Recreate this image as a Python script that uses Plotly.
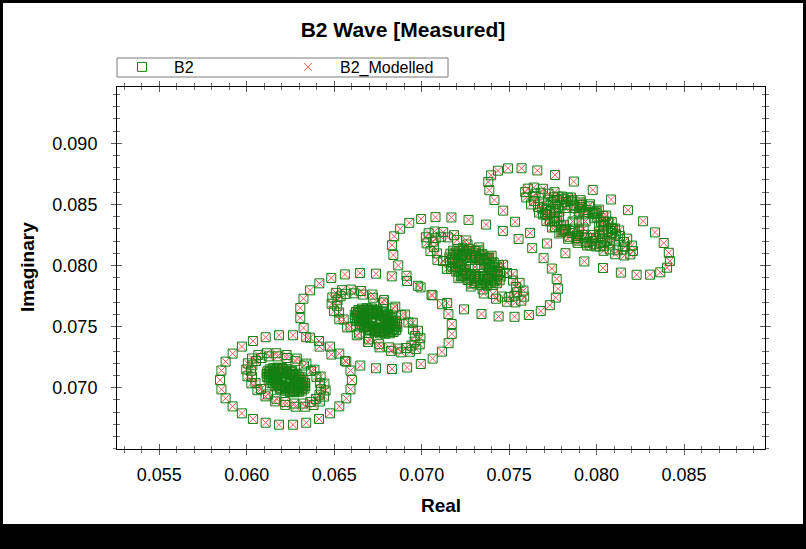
import plotly.graph_objects as go

# ---------------- data ----------------
# Cluster 1
c1_outer_re = [0.06601, 0.06593, 0.06569, 0.06529, 0.06476, 0.06413, 0.06340, 0.06264, 0.06184, 0.06108,
               0.06035, 0.05972, 0.05919, 0.05879, 0.05855, 0.05847, 0.05855, 0.05879, 0.05919, 0.05972,
               0.06035, 0.06108, 0.06184, 0.06264, 0.06340, 0.06413, 0.06476, 0.06529, 0.06569, 0.06593]
c1_outer_im = [0.07063, 0.07140, 0.07213, 0.07279, 0.07336, 0.07382, 0.07413, 0.07429, 0.07429, 0.07413,
               0.07382, 0.07336, 0.07279, 0.07213, 0.07140, 0.07063, 0.06986, 0.06913, 0.06847, 0.06790,
               0.06744, 0.06713, 0.06697, 0.06697, 0.06713, 0.06744, 0.06790, 0.06847, 0.06913, 0.06986]
c1_mid_re = [0.06444, 0.06422, 0.06387, 0.06341, 0.06286, 0.06228, 0.06169, 0.06114, 0.06066, 0.06030, 0.06006, 0.05997,
             0.06004, 0.06026, 0.06061, 0.06107, 0.06162, 0.06220, 0.06279, 0.06334, 0.06382, 0.06418, 0.06442, 0.06451,
             0.06418, 0.06398, 0.06367, 0.06327, 0.06279, 0.06228, 0.06176, 0.06127, 0.06085, 0.06053, 0.06032, 0.06024,
             0.06030, 0.06050, 0.06081, 0.06121, 0.06169, 0.06220, 0.06272, 0.06321, 0.06363, 0.06395, 0.06416, 0.06424]
c1_mid_im = [0.07033, 0.07091, 0.07147, 0.07197, 0.07238, 0.07267, 0.07282, 0.07282, 0.07268, 0.07239, 0.07199, 0.07149,
             0.07093, 0.07035, 0.06979, 0.06929, 0.06888, 0.06859, 0.06844, 0.06844, 0.06858, 0.06887, 0.06927, 0.06977,
             0.07037, 0.07088, 0.07137, 0.07181, 0.07217, 0.07243, 0.07256, 0.07256, 0.07243, 0.07218, 0.07183, 0.07139,
             0.07089, 0.07038, 0.06989, 0.06945, 0.06909, 0.06883, 0.06870, 0.06870, 0.06883, 0.06908, 0.06943, 0.06987]
c1_core_re = [0.06333, 0.06323, 0.06307, 0.06285, 0.06259, 0.06230, 0.06201, 0.06174, 0.06150, 0.06131, 0.06118, 0.06113,
              0.06115, 0.06125, 0.06141, 0.06163, 0.06189, 0.06218, 0.06247, 0.06274, 0.06298, 0.06317, 0.06330, 0.06335,
              0.06321, 0.06312, 0.06298, 0.06278, 0.06255, 0.06229, 0.06204, 0.06179, 0.06158, 0.06141, 0.06130, 0.06125,
              0.06127, 0.06136, 0.06150, 0.06170, 0.06193, 0.06219, 0.06244, 0.06269, 0.06290, 0.06307, 0.06318, 0.06323,
              0.06301, 0.06272, 0.06229, 0.06185, 0.06151, 0.06137, 0.06147, 0.06176, 0.06219, 0.06263, 0.06297, 0.06311,
              0.06297, 0.06290, 0.06280, 0.06265, 0.06247, 0.06228, 0.06209, 0.06190, 0.06174, 0.06162, 0.06153, 0.06150,
              0.06151, 0.06158, 0.06168, 0.06183, 0.06201, 0.06220, 0.06239, 0.06258, 0.06274, 0.06286, 0.06295, 0.06298,
              0.06285, 0.06270, 0.06244, 0.06211, 0.06183, 0.06165, 0.06163, 0.06178, 0.06204, 0.06237, 0.06265, 0.06283,
              0.06253, 0.06245, 0.06224, 0.06203, 0.06195, 0.06203, 0.06224, 0.06245, 0.06224]
c1_core_im = [0.07038, 0.07064, 0.07090, 0.07115, 0.07135, 0.07151, 0.07161, 0.07164, 0.07160, 0.07150, 0.07134, 0.07113,
              0.07088, 0.07062, 0.07036, 0.07011, 0.06991, 0.06975, 0.06965, 0.06962, 0.06966, 0.06976, 0.06992, 0.07013,
              0.07041, 0.07064, 0.07087, 0.07109, 0.07127, 0.07141, 0.07150, 0.07153, 0.07149, 0.07140, 0.07126, 0.07108,
              0.07085, 0.07062, 0.07039, 0.07017, 0.06999, 0.06985, 0.06976, 0.06973, 0.06977, 0.06986, 0.07000, 0.07018,
              0.07064, 0.07104, 0.07132, 0.07142, 0.07131, 0.07102, 0.07062, 0.07022, 0.06994, 0.06984, 0.06995, 0.07024,
              0.07046, 0.07064, 0.07081, 0.07098, 0.07111, 0.07122, 0.07129, 0.07131, 0.07128, 0.07121, 0.07111, 0.07097,
              0.07080, 0.07062, 0.07045, 0.07028, 0.07015, 0.07004, 0.06997, 0.06995, 0.06998, 0.07005, 0.07015, 0.07029,
              0.07049, 0.07078, 0.07103, 0.07118, 0.07117, 0.07103, 0.07077, 0.07048, 0.07023, 0.07008, 0.07009, 0.07023,
              0.07063, 0.07109, 0.07128, 0.07109, 0.07063, 0.07017, 0.06998, 0.07017, 0.07063]

# Cluster 2
c2_outer_re = [0.07172, 0.07153, 0.07116, 0.07062, 0.06994, 0.06916, 0.06829, 0.06739, 0.06648, 0.06561,
               0.06483, 0.06415, 0.06362, 0.06324, 0.06306, 0.06306, 0.06325, 0.06362, 0.06416, 0.06484,
               0.06562, 0.06649, 0.06739, 0.06830, 0.06917, 0.06995, 0.07063, 0.07116, 0.07154, 0.07172]
c2_outer_im = [0.07521, 0.07603, 0.07683, 0.07756, 0.07821, 0.07873, 0.07911, 0.07933, 0.07939, 0.07927,
               0.07898, 0.07854, 0.07797, 0.07728, 0.07652, 0.07571, 0.07489, 0.07409, 0.07336, 0.07271,
               0.07219, 0.07181, 0.07159, 0.07153, 0.07165, 0.07194, 0.07238, 0.07295, 0.07364, 0.07440]
c2_mid_re = [0.06979, 0.06949, 0.06904, 0.06849, 0.06785, 0.06719, 0.06654, 0.06595, 0.06545, 0.06509, 0.06489, 0.06485,
             0.06499, 0.06529, 0.06574, 0.06629, 0.06693, 0.06759, 0.06824, 0.06883, 0.06933, 0.06969, 0.06989, 0.06993,
             0.06950, 0.06924, 0.06884, 0.06836, 0.06779, 0.06721, 0.06664, 0.06612, 0.06568, 0.06537, 0.06519, 0.06515,
             0.06528, 0.06554, 0.06594, 0.06642, 0.06699, 0.06757, 0.06814, 0.06866, 0.06910, 0.06941, 0.06959, 0.06963]
c2_mid_im = [0.07466, 0.07532, 0.07599, 0.07663, 0.07718, 0.07762, 0.07791, 0.07803, 0.07798, 0.07776, 0.07738, 0.07687,
             0.07626, 0.07560, 0.07493, 0.07429, 0.07374, 0.07330, 0.07301, 0.07289, 0.07294, 0.07316, 0.07354, 0.07405,
             0.07476, 0.07534, 0.07593, 0.07649, 0.07697, 0.07736, 0.07762, 0.07772, 0.07768, 0.07748, 0.07715, 0.07670,
             0.07616, 0.07558, 0.07499, 0.07443, 0.07395, 0.07356, 0.07330, 0.07320, 0.07324, 0.07344, 0.07377, 0.07422]
c2_core_re = [0.06859, 0.06849, 0.06831, 0.06808, 0.06779, 0.06748, 0.06716, 0.06686, 0.06659, 0.06638, 0.06624, 0.06617,
              0.06619, 0.06629, 0.06647, 0.06670, 0.06699, 0.06730, 0.06762, 0.06792, 0.06819, 0.06840, 0.06854, 0.06861,
              0.06846, 0.06837, 0.06821, 0.06800, 0.06775, 0.06747, 0.06719, 0.06692, 0.06668, 0.06649, 0.06637, 0.06630,
              0.06632, 0.06641, 0.06657, 0.06678, 0.06703, 0.06731, 0.06759, 0.06786, 0.06810, 0.06829, 0.06841, 0.06848,
              0.06825, 0.06793, 0.06746, 0.06698, 0.06660, 0.06644, 0.06653, 0.06685, 0.06732, 0.06780, 0.06818, 0.06834,
              0.06819, 0.06813, 0.06801, 0.06785, 0.06766, 0.06745, 0.06724, 0.06703, 0.06685, 0.06671, 0.06662, 0.06657,
              0.06659, 0.06665, 0.06677, 0.06693, 0.06712, 0.06733, 0.06754, 0.06775, 0.06793, 0.06807, 0.06816, 0.06821,
              0.06806, 0.06791, 0.06761, 0.06726, 0.06694, 0.06675, 0.06672, 0.06687, 0.06717, 0.06752, 0.06784, 0.06803,
              0.06768, 0.06760, 0.06739, 0.06718, 0.06710, 0.06718, 0.06739, 0.06760, 0.06739]
c2_core_im = [0.07521, 0.07548, 0.07575, 0.07600, 0.07622, 0.07638, 0.07648, 0.07651, 0.07647, 0.07636, 0.07619, 0.07597,
              0.07571, 0.07544, 0.07517, 0.07492, 0.07470, 0.07454, 0.07444, 0.07441, 0.07445, 0.07456, 0.07473, 0.07495,
              0.07524, 0.07548, 0.07572, 0.07594, 0.07614, 0.07628, 0.07637, 0.07639, 0.07636, 0.07626, 0.07611, 0.07591,
              0.07568, 0.07544, 0.07520, 0.07498, 0.07478, 0.07464, 0.07455, 0.07453, 0.07456, 0.07466, 0.07481, 0.07501,
              0.07548, 0.07588, 0.07618, 0.07628, 0.07616, 0.07586, 0.07544, 0.07504, 0.07474, 0.07464, 0.07476, 0.07506,
              0.07529, 0.07547, 0.07565, 0.07582, 0.07597, 0.07608, 0.07614, 0.07616, 0.07614, 0.07606, 0.07595, 0.07580,
              0.07563, 0.07545, 0.07527, 0.07510, 0.07495, 0.07484, 0.07478, 0.07476, 0.07478, 0.07486, 0.07497, 0.07512,
              0.07532, 0.07562, 0.07589, 0.07603, 0.07603, 0.07587, 0.07560, 0.07530, 0.07503, 0.07489, 0.07489, 0.07505,
              0.07546, 0.07592, 0.07611, 0.07592, 0.07546, 0.07500, 0.07481, 0.07500, 0.07546]

# Cluster 3
c3_outer_re = [0.07772, 0.07744, 0.07697, 0.07632, 0.07554, 0.07464, 0.07368, 0.07268, 0.07170, 0.07079,
               0.06997, 0.06929, 0.06877, 0.06843, 0.06830, 0.06838, 0.06866, 0.06913, 0.06978, 0.07056,
               0.07146, 0.07242, 0.07342, 0.07440, 0.07531, 0.07613, 0.07681, 0.07733, 0.07767, 0.07780]
c3_outer_im = [0.07890, 0.07975, 0.08060, 0.08142, 0.08217, 0.08283, 0.08335, 0.08373, 0.08393, 0.08396,
               0.08381, 0.08349, 0.08301, 0.08239, 0.08166, 0.08086, 0.08001, 0.07916, 0.07834, 0.07759,
               0.07693, 0.07641, 0.07603, 0.07583, 0.07580, 0.07595, 0.07627, 0.07675, 0.07737, 0.07810]
c3_mid_re = [0.07560, 0.07520, 0.07466, 0.07400, 0.07329, 0.07255, 0.07185, 0.07123, 0.07074, 0.07040, 0.07024, 0.07028,
             0.07050, 0.07090, 0.07144, 0.07210, 0.07281, 0.07355, 0.07425, 0.07487, 0.07536, 0.07570, 0.07586, 0.07582,
             0.07522, 0.07488, 0.07442, 0.07386, 0.07325, 0.07262, 0.07203, 0.07150, 0.07109, 0.07080, 0.07066, 0.07070,
             0.07088, 0.07122, 0.07168, 0.07224, 0.07285, 0.07348, 0.07407, 0.07460, 0.07501, 0.07530, 0.07544, 0.07540]
c3_mid_im = [0.07858, 0.07930, 0.08005, 0.08080, 0.08148, 0.08205, 0.08248, 0.08273, 0.08278, 0.08264, 0.08231, 0.08181,
             0.08118, 0.08046, 0.07971, 0.07896, 0.07828, 0.07771, 0.07728, 0.07703, 0.07698, 0.07712, 0.07745, 0.07795,
             0.07877, 0.07939, 0.08002, 0.08066, 0.08124, 0.08172, 0.08209, 0.08230, 0.08235, 0.08223, 0.08195, 0.08152,
             0.08099, 0.08037, 0.07974, 0.07910, 0.07852, 0.07804, 0.07767, 0.07746, 0.07741, 0.07753, 0.07781, 0.07824]
c3_core_re = [0.07448, 0.07434, 0.07412, 0.07382, 0.07347, 0.07309, 0.07271, 0.07235, 0.07204, 0.07180, 0.07164, 0.07158,
              0.07162, 0.07176, 0.07198, 0.07228, 0.07263, 0.07301, 0.07339, 0.07375, 0.07406, 0.07430, 0.07446, 0.07452,
              0.07432, 0.07420, 0.07400, 0.07374, 0.07342, 0.07309, 0.07275, 0.07243, 0.07215, 0.07194, 0.07180, 0.07174,
              0.07178, 0.07190, 0.07210, 0.07236, 0.07268, 0.07301, 0.07335, 0.07367, 0.07395, 0.07416, 0.07430, 0.07436,
              0.07406, 0.07365, 0.07308, 0.07250, 0.07207, 0.07190, 0.07204, 0.07245, 0.07302, 0.07360, 0.07403, 0.07420,
              0.07401, 0.07391, 0.07377, 0.07357, 0.07333, 0.07308, 0.07282, 0.07258, 0.07237, 0.07221, 0.07211, 0.07207,
              0.07209, 0.07219, 0.07233, 0.07253, 0.07277, 0.07302, 0.07328, 0.07352, 0.07373, 0.07389, 0.07399, 0.07403,
              0.07385, 0.07365, 0.07329, 0.07286, 0.07248, 0.07226, 0.07225, 0.07245, 0.07281, 0.07324, 0.07362, 0.07384,
              0.07342, 0.07331, 0.07305, 0.07279, 0.07268, 0.07279, 0.07305, 0.07331, 0.07305]
c3_core_im = [0.07947, 0.07986, 0.08026, 0.08063, 0.08095, 0.08119, 0.08135, 0.08141, 0.08136, 0.08121, 0.08097, 0.08066,
              0.08029, 0.07990, 0.07950, 0.07913, 0.07881, 0.07857, 0.07841, 0.07835, 0.07840, 0.07855, 0.07879, 0.07910,
              0.07952, 0.07986, 0.08022, 0.08055, 0.08083, 0.08105, 0.08119, 0.08124, 0.08120, 0.08106, 0.08085, 0.08057,
              0.08024, 0.07990, 0.07954, 0.07921, 0.07893, 0.07871, 0.07857, 0.07852, 0.07856, 0.07870, 0.07891, 0.07919,
              0.07986, 0.08047, 0.08090, 0.08107, 0.08092, 0.08049, 0.07990, 0.07929, 0.07886, 0.07869, 0.07884, 0.07927,
              0.07961, 0.07987, 0.08013, 0.08038, 0.08060, 0.08076, 0.08086, 0.08091, 0.08087, 0.08077, 0.08061, 0.08040,
              0.08015, 0.07989, 0.07963, 0.07938, 0.07916, 0.07900, 0.07890, 0.07885, 0.07889, 0.07899, 0.07915, 0.07936,
              0.07965, 0.08009, 0.08048, 0.08070, 0.08071, 0.08049, 0.08011, 0.07967, 0.07928, 0.07906, 0.07905, 0.07927,
              0.07988, 0.08046, 0.08070, 0.08046, 0.07988, 0.07930, 0.07906, 0.07930, 0.07988]

# Cluster 4
c4_outer_re = [0.08384, 0.08334, 0.08266, 0.08180, 0.08083, 0.07978, 0.07870, 0.07763, 0.07661, 0.07571,
               0.07494, 0.07436, 0.07397, 0.07381, 0.07387, 0.07416, 0.07466, 0.07534, 0.07620, 0.07717,
               0.07822, 0.07930, 0.08037, 0.08139, 0.08229, 0.08306, 0.08364, 0.08403, 0.08419, 0.08413]
c4_outer_im = [0.08184, 0.08271, 0.08362, 0.08453, 0.08540, 0.08619, 0.08687, 0.08741, 0.08778, 0.08796,
               0.08795, 0.08776, 0.08738, 0.08684, 0.08616, 0.08536, 0.08449, 0.08358, 0.08267, 0.08180,
               0.08101, 0.08033, 0.07979, 0.07942, 0.07924, 0.07925, 0.07944, 0.07982, 0.08036, 0.08104]
c4_mid_re = [0.08175, 0.08129, 0.08068, 0.07995, 0.07916, 0.07836, 0.07760, 0.07694, 0.07641, 0.07607, 0.07592, 0.07598,
             0.07625, 0.07671, 0.07732, 0.07805, 0.07884, 0.07964, 0.08040, 0.08106, 0.08159, 0.08193, 0.08208, 0.08202,
             0.08134, 0.08095, 0.08043, 0.07981, 0.07914, 0.07846, 0.07781, 0.07725, 0.07680, 0.07651, 0.07638, 0.07643,
             0.07666, 0.07705, 0.07757, 0.07819, 0.07886, 0.07954, 0.08019, 0.08075, 0.08120, 0.08149, 0.08162, 0.08157]
c4_mid_im = [0.08220, 0.08287, 0.08359, 0.08431, 0.08498, 0.08556, 0.08600, 0.08628, 0.08638, 0.08629, 0.08601, 0.08557,
             0.08500, 0.08433, 0.08361, 0.08289, 0.08222, 0.08164, 0.08120, 0.08092, 0.08082, 0.08091, 0.08119, 0.08163,
             0.08241, 0.08298, 0.08359, 0.08420, 0.08477, 0.08527, 0.08564, 0.08588, 0.08596, 0.08589, 0.08565, 0.08527,
             0.08479, 0.08422, 0.08361, 0.08300, 0.08243, 0.08193, 0.08156, 0.08132, 0.08124, 0.08131, 0.08155, 0.08193]
c4_core_re = [0.08106, 0.08087, 0.08055, 0.08013, 0.07963, 0.07909, 0.07854, 0.07802, 0.07757, 0.07722, 0.07699, 0.07689,
              0.07694, 0.07713, 0.07745, 0.07787, 0.07837, 0.07891, 0.07946, 0.07998, 0.08043, 0.08078, 0.08101, 0.08111,
              0.08083, 0.08066, 0.08038, 0.08001, 0.07956, 0.07908, 0.07859, 0.07813, 0.07773, 0.07742, 0.07721, 0.07712,
              0.07717, 0.07734, 0.07762, 0.07799, 0.07844, 0.07892, 0.07941, 0.07987, 0.08027, 0.08058, 0.08079, 0.08088,
              0.08046, 0.07988, 0.07907, 0.07824, 0.07761, 0.07735, 0.07754, 0.07812, 0.07893, 0.07976, 0.08039, 0.08065,
              0.08038, 0.08025, 0.08004, 0.07976, 0.07942, 0.07906, 0.07869, 0.07834, 0.07804, 0.07781, 0.07765, 0.07759,
              0.07762, 0.07775, 0.07796, 0.07824, 0.07858, 0.07894, 0.07931, 0.07966, 0.07996, 0.08019, 0.08035, 0.08041,
              0.08015, 0.07987, 0.07935, 0.07874, 0.07820, 0.07787, 0.07785, 0.07813, 0.07865, 0.07926, 0.07980, 0.08013,
              0.07937, 0.07926, 0.07900, 0.07874, 0.07863, 0.07874, 0.07900, 0.07926, 0.07900]
c4_core_im = [0.08303, 0.08356, 0.08409, 0.08458, 0.08501, 0.08535, 0.08556, 0.08564, 0.08558, 0.08539, 0.08507, 0.08466,
              0.08417, 0.08364, 0.08311, 0.08262, 0.08219, 0.08185, 0.08164, 0.08156, 0.08162, 0.08181, 0.08213, 0.08254,
              0.08309, 0.08356, 0.08404, 0.08447, 0.08485, 0.08516, 0.08534, 0.08542, 0.08536, 0.08519, 0.08491, 0.08454,
              0.08411, 0.08364, 0.08316, 0.08273, 0.08235, 0.08204, 0.08186, 0.08178, 0.08184, 0.08201, 0.08229, 0.08266,
              0.08357, 0.08436, 0.08497, 0.08519, 0.08500, 0.08443, 0.08363, 0.08284, 0.08223, 0.08201, 0.08220, 0.08277,
              0.08322, 0.08357, 0.08393, 0.08426, 0.08454, 0.08477, 0.08491, 0.08497, 0.08493, 0.08480, 0.08458, 0.08431,
              0.08398, 0.08363, 0.08327, 0.08294, 0.08266, 0.08243, 0.08229, 0.08223, 0.08227, 0.08240, 0.08262, 0.08289,
              0.08328, 0.08387, 0.08439, 0.08470, 0.08471, 0.08442, 0.08392, 0.08333, 0.08281, 0.08250, 0.08249, 0.08278,
              0.08360, 0.08418, 0.08442, 0.08418, 0.08360, 0.08302, 0.08278, 0.08302, 0.08360]

x_tick_vals = [0.055, 0.060, 0.065, 0.070, 0.075, 0.080, 0.085]
x_tick_text = ["0.055", "0.060", "0.065", "0.070", "0.075", "0.080", "0.085"]
y_tick_vals = [0.070, 0.075, 0.080, 0.085, 0.090]
y_tick_text = ["0.070", "0.075", "0.080", "0.085", "0.090"]

# measured series
b2_real = (c1_outer_re + c1_mid_re + c1_core_re + c2_outer_re + c2_mid_re + c2_core_re
           + c3_outer_re + c3_mid_re + c3_core_re + c4_outer_re + c4_mid_re + c4_core_re)
b2_imag = (c1_outer_im + c1_mid_im + c1_core_im + c2_outer_im + c2_mid_im + c2_core_im
           + c3_outer_im + c3_mid_im + c3_core_im + c4_outer_im + c4_mid_im + c4_core_im)
# the modelled series sits on top of the measured points in the picture
b2_mod_real = list(b2_real)
b2_mod_imag = list(b2_imag)

# ---------------- figure ----------------
FONT = "Liberation Sans, Arial, sans-serif"
W, H = 806, 549
ML, MR, MT, MB = 117, 41, 87, 100
PW, PH = W - ML - MR, H - MT - MB


def px_x(px):
    return (px - ML) / PW


def px_y(py):
    return (H - MB - py) / PH


XR = [0.05258, 0.08963]
YR = [0.06498, 0.09461]

fig = go.Figure()
fig.add_trace(go.Scatter(
    x=b2_mod_real, y=b2_mod_imag, mode="markers", name="B2_Modelled", legendrank=2,
    marker=dict(symbol="x-thin", size=8, color="#ff5a5a", line=dict(width=1, color="#ff5a5a")),
))
fig.add_trace(go.Scatter(
    x=b2_real, y=b2_imag, mode="markers", name="B2", legendrank=1,
    marker=dict(symbol="square-open", size=9, color="#138013", line=dict(width=1)),
))
fig.add_trace(go.Scatter(x=[], y=[], xaxis="x2", yaxis="y2", showlegend=False, hoverinfo="skip"))

tick_common = dict(showgrid=False, zeroline=False, tickcolor="#606060", tickwidth=1, ticklen=5)

fig.update_layout(
    width=W, height=H,
    margin=dict(l=ML, r=MR, t=MT, b=MB),
    paper_bgcolor="white", plot_bgcolor="white",
    font=dict(family=FONT, color="black"),
    title=dict(text="<b>B2 Wave [Measured]</b>", x=0.5, xref="container", xanchor="center",
               y=1 - 30 / H, yanchor="middle", font=dict(family=FONT, size=21, color="black")),
    xaxis=dict(range=XR, tickmode="array", tickvals=x_tick_vals, ticktext=x_tick_text,
               ticks="outside", showline=True, linecolor="black", linewidth=1, mirror="ticks",
               minor=dict(tick0=0.05, dtick=0.001, ticks="outside", ticklen=3, tickcolor="#707070"),
               tickfont=dict(family=FONT, size=18, color="black"), ticklabelstandoff=4,
               **tick_common),
    yaxis=dict(range=YR, tickmode="array", tickvals=y_tick_vals, ticktext=y_tick_text,
               ticks="outside", showline=True, linecolor="black", linewidth=1, mirror="ticks",
               minor=dict(tick0=0.05, dtick=0.001, ticks="outside", ticklen=3, tickcolor="#707070"),
               tickfont=dict(family=FONT, size=18, color="black"), ticklabelstandoff=10,
               **tick_common),
    xaxis2=dict(range=XR, overlaying="x", anchor="y", side="bottom", tickmode="array", tickvals=x_tick_vals,
                ticks="inside", showline=False, mirror="ticks", showticklabels=False,
                minor=dict(tick0=0.05, dtick=0.001, ticks="inside", ticklen=3, tickcolor="#707070"),
                **tick_common),
    yaxis2=dict(range=YR, overlaying="y", anchor="x", side="left", tickmode="array", tickvals=y_tick_vals,
                ticks="inside", showline=False, mirror="ticks", showticklabels=False,
                minor=dict(tick0=0.05, dtick=0.001, ticks="inside", ticklen=3, tickcolor="#707070"),
                **tick_common),
    legend=dict(orientation="h", x=px_x(110), xanchor="left", y=px_y(50), yanchor="top",
                bgcolor="rgba(0,0,0,0)", borderwidth=0, font=dict(family=FONT, size=16, color="black"),
                itemwidth=54, entrywidthmode="pixels", entrywidth=97),
    showlegend=True,
)

fig.add_annotation(text="<b>Real</b>", xref="paper", yref="paper", x=0.5, y=px_y(505),
                   xanchor="center", yanchor="middle", showarrow=False,
                   font=dict(family=FONT, size=19, color="black"))
fig.add_annotation(text="<b>Imaginary</b>", xref="paper", yref="paper", x=px_x(27), y=px_y(267),
                   xanchor="center", yanchor="middle", showarrow=False, textangle=-90,
                   font=dict(family=FONT, size=19, color="black"))

# legend frame
fig.add_shape(type="rect", xref="paper", yref="paper", x0=px_x(117), x1=px_x(448), y0=px_y(77), y1=px_y(58),
              line=dict(color="#7a7a7a", width=1), fillcolor="rgba(0,0,0,0)")
# outer black picture frame
for (a, b, c, d) in [(0, 3, 0, H), (W - 3, W, 0, H), (0, W, 0, 3), (0, W, 524, H)]:
    fig.add_shape(type="rect", xref="paper", yref="paper", x0=px_x(a), x1=px_x(b), y0=px_y(d), y1=px_y(c),
                  line=dict(width=0), fillcolor="black", layer="above")

fig.write_html("out.html")
